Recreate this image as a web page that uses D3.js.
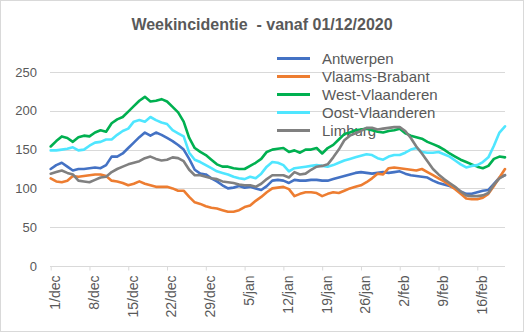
<!DOCTYPE html>
<html><head><meta charset="utf-8">
<script src="https://cdn.jsdelivr.net/npm/d3@7"></script>
<style>
html,body{margin:0;padding:0;background:#fff;}
svg{display:block;font-family:"Liberation Sans",Arial,sans-serif;}
</style></head>
<body>
<script>
const title = "Weekincidentie  - vanaf 01/12/2020";
const startDate = new Date(2020, 11, 1);
const nDays = 83;
const monthNames = ["jan","feb","mrt","apr","mei","jun","jul","aug","sep","okt","nov","dec"];
const categories = d3.range(nDays).map(i => d3.timeDay.offset(startDate, i));
const tickLabels = ["1/dec","8/dec","15/dec","22/dec","29/dec","5/jan","12/jan","19/jan","26/jan","2/feb","9/feb","16/feb"];
const yTicks = [0, 50, 100, 150, 200, 250];

const seriesNames = ["Antwerpen","Vlaams-Brabant","West-Vlaanderen","Oost-Vlaanderen","Limburg"];
const seriesColors = ["#4472C4","#ED7D31","#00B050","#4FE6FF","#808080"];

const antwerpen = [125,130,133,128,123,125,125,126,127,126,130,141,141,145,152,159,166,172,168,172,169,165,161,156,150,138,124,119,118,113,109,104,100,101,103,101,102,100,98,103,110,111,110,107,111,110,110,111,111,110,110,112,114,116,118,120,121,120,119,120,121,120,121,122,119,117,116,115,114,110,107,105,103,100,96,93,93,95,97,98,106,114,117];
const vlaamsBrabant = [113,109,108,110,116,115,116,117,118,118,116,110,109,107,104,106,109,106,104,102,102,102,100,97,97,89,82,80,77,75,74,72,70,70,72,76,78,84,89,95,100,101,102,99,90,93,95,95,94,90,93,95,94,97,100,102,104,108,113,119,118,126,127,126,125,124,123,125,121,117,113,109,104,99,93,87,86,86,88,93,103,114,125];
const westVlaanderen = [154,161,167,165,160,166,168,167,172,175,173,184,189,192,199,206,213,218,212,213,215,212,205,198,186,165,152,147,143,137,131,128,128,126,125,125,129,133,138,147,150,151,152,147,149,146,150,150,152,145,152,156,163,170,172,175,176,177,175,173,172,174,175,177,171,168,166,164,160,157,154,150,145,141,137,134,131,128,126,129,138,141,140];
const oostVlaanderen = [149,149,150,151,153,149,150,155,159,160,163,163,169,174,177,186,188,186,192,188,185,183,175,171,167,146,137,134,130,126,122,120,118,115,113,112,115,113,119,128,134,133,130,122,126,127,128,129,130,129,128,130,133,136,138,140,142,144,143,139,137,141,143,143,146,150,152,147,146,146,147,144,141,136,131,127,129,130,134,140,155,172,180];
const limburg = [119,121,123,120,118,110,109,108,111,114,115,121,125,128,131,133,135,139,141,138,136,137,140,139,135,124,117,117,115,113,112,109,108,107,105,104,104,102,106,112,117,117,117,114,121,118,119,124,128,129,131,140,150,162,168,171,174,178,178,176,177,178,179,179,174,165,154,145,135,125,118,112,107,102,96,91,90,90,91,94,105,113,117];

const seriesValues = [antwerpen, vlaamsBrabant, westVlaanderen, oostVlaanderen, limburg];

const W = 524, H = 332;
const label = d => d.getDate() + "/" + monthNames[d.getMonth()];

const svg = d3.select("body").append("svg").attr("width", W).attr("height", H);
svg.append("rect").attr("x",0.5).attr("y",0.5).attr("width",W-1).attr("height",H-1)
  .attr("fill","#fff").attr("stroke","#D9D9D9");

const x = d3.scalePoint().domain(categories.map(label)).range([50.7, 505]);
const y = d3.scaleLinear().domain([0, 250]).range([266, 72]);

// gridlines
svg.append("g").selectAll("line").data(yTicks.filter(v => v > 0)).join("line")
  .attr("x1", 50).attr("x2", 505)
  .attr("y1", d => Math.round(y(d)) + 0.5).attr("y2", d => Math.round(y(d)) + 0.5)
  .attr("stroke", "#D9D9D9").attr("stroke-width", 1);

// y axis labels
const yAxis = d3.axisLeft(y).tickValues(yTicks).tickSize(0).tickPadding(0);
const gy = svg.append("g").attr("transform", "translate(37,0)").call(yAxis);
gy.select(".domain").remove();
gy.selectAll("text").attr("fill", "#595959").attr("font-size", 13)
  .attr("font-family", '"Liberation Sans",Arial,sans-serif');

// x axis
const xAxis = d3.axisBottom(x).tickValues(tickLabels).tickSize(4).tickPadding(0);
const gx = svg.append("g").attr("transform", "translate(0,266.5)").call(xAxis);
gx.select(".domain").attr("d", "M50,0H505").attr("stroke", "#D9D9D9");
gx.selectAll(".tick line").attr("stroke", "#D9D9D9");
gx.selectAll(".tick text")
  .attr("fill", "#595959").attr("font-size", 14)
  .attr("font-family", '"Liberation Sans",Arial,sans-serif')
  .attr("transform", "rotate(-90)")
  .attr("text-anchor", "end")
  .attr("x", -9).attr("y", 0).attr("dy", "0.35em")
  .attr("dx", 0)
  .each(function(){ d3.select(this).attr("y", 4); });

// title
svg.append("text").attr("x", 262).attr("y", 30).attr("text-anchor", "middle")
  .attr("font-size", 16).attr("font-weight", "bold").attr("fill", "#595959")
  .style("white-space", "pre").text(title);

// legend
const legend = svg.append("g");
seriesNames.forEach((name, i) => {
  const ly = 58.5 + i * 18;
  legend.append("line").attr("x1", 277).attr("x2", 310).attr("y1", ly).attr("y2", ly)
    .attr("stroke", seriesColors[i]).attr("stroke-width", 3);
  legend.append("text").attr("x", 322).attr("y", ly).attr("dy", "0.35em")
    .attr("font-size", 15).attr("fill", "#595959").text(name);
});

// lines
const line = d3.line().x((d, i) => x(label(categories[i]))).y(d => y(d));
svg.append("g").selectAll("path").data(seriesValues).join("path")
  .attr("d", d => line(d))
  .attr("fill", "none")
  .attr("stroke", (d, i) => seriesColors[i])
  .attr("stroke-width", 2.6)
  .attr("stroke-linejoin", "round").attr("stroke-linecap", "round");
</script>
</body></html>
